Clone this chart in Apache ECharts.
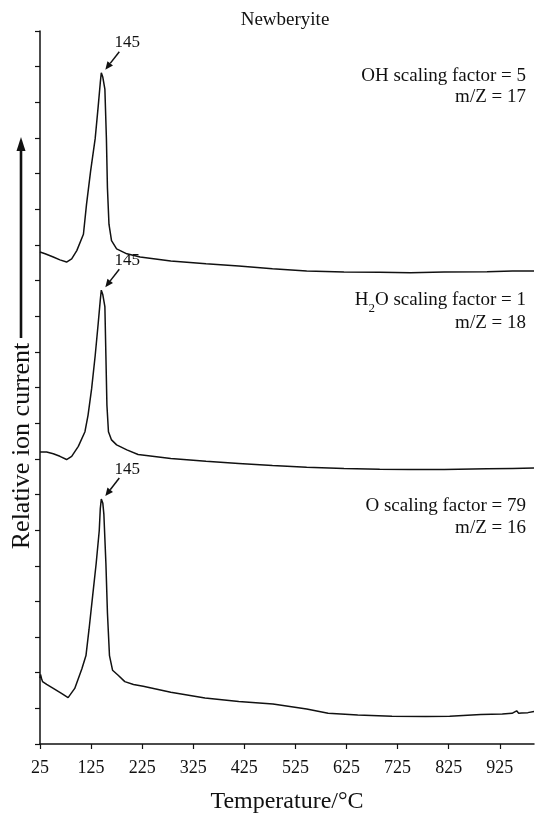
<!DOCTYPE html>
<html>
<head>
<meta charset="utf-8">
<script src="https://cdn.jsdelivr.net/npm/echarts@6/dist/echarts.min.js"></script>
<style>html,body{margin:0;padding:0;background:#fff}#c{width:535px;height:819px}</style>
</head>
<body>
<div id="c"></div>
<script>
// ---- data (temperature in °C, relative ion current in axis units) ----
const ohTemp = [25, 28, 35, 51, 64, 77, 87, 97, 110, 116, 124, 133, 139, 143, 145, 148, 152, 155, 157, 160, 165, 175, 195, 221, 281, 350, 414, 480, 547, 620, 690, 750, 816, 900, 950, 992];
const ohVal  = [13.80, 13.80, 13.75, 13.66, 13.58, 13.52, 13.61, 13.84, 14.30, 15.13, 16.06, 16.98, 17.90, 18.55, 18.83, 18.70, 18.37, 16.98, 15.60, 14.58, 14.12, 13.89, 13.75, 13.66, 13.55, 13.47, 13.41, 13.33, 13.27, 13.24, 13.23, 13.22, 13.24, 13.25, 13.27, 13.27];

const h2oTemp = [25, 28, 38, 51, 64, 77, 87, 100, 113, 119, 126, 133, 139, 143, 145, 148, 152, 154, 156, 159, 165, 175, 195, 217, 281, 350, 414, 480, 547, 620, 690, 750, 816, 900, 950, 992];
const h2oVal  = [8.19, 8.19, 8.19, 8.14, 8.07, 7.98, 8.07, 8.35, 8.76, 9.22, 9.96, 10.89, 11.81, 12.45, 12.73, 12.60, 12.27, 10.89, 9.50, 8.76, 8.53, 8.39, 8.25, 8.12, 8.01, 7.93, 7.87, 7.81, 7.76, 7.73, 7.71, 7.70, 7.70, 7.72, 7.73, 7.74];

const oTemp = [25, 26, 28, 30, 38, 51, 67, 80, 93, 107, 115, 121, 128, 135, 141, 143, 145, 148, 150, 154, 157, 161, 167, 178, 191, 208, 227, 281, 348, 414, 481, 547, 589, 647, 714, 780, 827, 888, 930, 949, 958, 962, 968, 980, 992];
const oVal  = [1.85, 1.95, 1.84, 1.75, 1.67, 1.56, 1.42, 1.30, 1.56, 2.11, 2.48, 3.22, 4.15, 5.07, 5.99, 6.60, 6.87, 6.75, 6.45, 5.07, 3.68, 2.48, 2.07, 1.93, 1.75, 1.67, 1.62, 1.45, 1.29, 1.19, 1.12, 0.98, 0.86, 0.81, 0.78, 0.77, 0.78, 0.83, 0.84, 0.86, 0.93, 0.86, 0.87, 0.88, 0.91];

const xTicks = [25, 125, 225, 325, 425, 525, 625, 725, 825, 925];
const peakTemps = [145, 145, 145];
const peakLabels = ['145', '145', '145'];
const chartTitle = 'Newberyite';
const xName = 'Temperature/°C';
const yName = 'Relative ion current';

// ---- chart ----
const FONT = "'Liberation Serif', 'Times New Roman', serif";
const chart = echarts.init(document.getElementById('c'), null, {renderer: 'canvas'});
const zip = (a, b) => a.map((t, i) => [t, b[i]]);
const lineSeries = (name, t, v) => ({
  name, type: 'line', data: zip(t, v), showSymbol: false, symbol: 'none',
  lineStyle: {color: '#111', width: 1.5}, animation: false, silent: true
});

chart.setOption({
  backgroundColor: '#fff',
  animation: false,
  grid: {left: 40, right: 1, top: 31, bottom: 66, containLabel: false},
  xAxis: {
    type: 'value', min: 25, max: 992,
    name: xName, nameLocation: 'middle', nameGap: 46,
    nameTextStyle: {fontFamily: FONT, fontSize: 24, color: '#111'},
    axisLine: {lineStyle: {color: '#111', width: 1.5}},
    axisTick: {show: true, inside: false, length: 5, customValues: xTicks, lineStyle: {color: '#111', width: 1.2}},
    axisLabel: {customValues: xTicks, fontFamily: FONT, fontSize: 18, color: '#111', margin: 15},
    splitLine: {show: false}
  },
  yAxis: {
    type: 'value', min: 0, max: 20, interval: 1,
    axisLine: {show: true, lineStyle: {color: '#111', width: 1.5}},
    axisTick: {show: true, inside: false, length: 5, lineStyle: {color: '#111', width: 1.2}},
    axisLabel: {show: false},
    splitLine: {show: false}
  },
  series: [
    lineSeries('OH', ohTemp, ohVal),
    lineSeries('H2O', h2oTemp, h2oVal),
    lineSeries('O', oTemp, oVal)
  ]
});

// ---- annotations ----
const seriesVals = [[ohTemp, ohVal], [h2oTemp, h2oVal], [oTemp, oVal]];
const graphics = [];
seriesVals.forEach(([t, v], i) => {
  const idx = t.indexOf(peakTemps[i]);
  const p = chart.convertToPixel({gridIndex: 0}, [t[idx], v[idx]]);
  const sx = p[0] + 18, sy = p[1] - 21, ex = p[0] + 4, ey = p[1] - 3;
  const dx = ex - sx, dy = ey - sy, L = Math.hypot(dx, dy);
  const ux = dx / L, uy = dy / L, hl = 8, hw = 3.5;
  const bx = ex - ux * hl, by = ey - uy * hl;
  graphics.push({type: 'line', shape: {x1: sx, y1: sy, x2: bx, y2: by}, style: {stroke: '#111', lineWidth: 1.5}});
  graphics.push({type: 'polygon', shape: {points: [[ex, ey], [bx - uy * hw, by + ux * hw], [bx + uy * hw, by - ux * hw]]}, style: {fill: '#111'}});
  graphics.push({type: 'text', x: p[0] + 26, y: p[1] - 30, style: {text: peakLabels[i], font: '17px ' + FONT, fill: '#111', align: 'center', verticalAlign: 'middle'}});
});

const rightText = (txt, y) => ({type: 'text', x: 526, y, style: {text: txt, font: '19px ' + FONT, fill: '#111', align: 'right', verticalAlign: 'middle'}});
graphics.push(rightText('OH scaling factor = 5', 76));
graphics.push(rightText('m/Z = 17', 97));
graphics.push({
  type: 'text', x: 526, y: 300,
  style: {
    text: '{a|H}{s|2}{a|O scaling factor = 1}', align: 'right', verticalAlign: 'middle', fill: '#111',
    rich: {
      a: {fontFamily: FONT, fontSize: 19, lineHeight: 30, verticalAlign: 'middle', fill: '#111'},
      s: {fontFamily: FONT, fontSize: 13, lineHeight: 13, verticalAlign: 'bottom', fill: '#111'}
    }
  }
});
graphics.push(rightText('m/Z = 18', 323));
graphics.push(rightText('O scaling factor = 79', 506));
graphics.push(rightText('m/Z = 16', 528));

graphics.push({type: 'text', x: 285, y: 20, style: {text: chartTitle, font: '19px ' + FONT, fill: '#111', align: 'center', verticalAlign: 'middle'}});

// y-axis title with upward arrow
graphics.push({type: 'text', x: 22, y: 446, rotation: Math.PI / 2, style: {text: yName, font: '26px ' + FONT, fill: '#111', align: 'center', verticalAlign: 'middle'}});
graphics.push({type: 'line', shape: {x1: 21, y1: 338, x2: 21, y2: 150}, style: {stroke: '#111', lineWidth: 2.6}});
graphics.push({type: 'polygon', shape: {points: [[21, 137], [16.5, 151], [25.5, 151]]}, style: {fill: '#111'}});

chart.setOption({graphic: graphics});
</script>
</body>
</html>
